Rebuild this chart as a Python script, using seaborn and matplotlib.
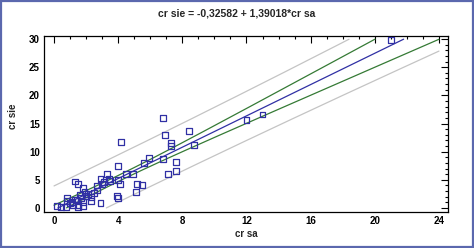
import numpy as np
import pandas as pd
import matplotlib
matplotlib.use("Agg")
import matplotlib.pyplot as plt
import seaborn as sns
from matplotlib.ticker import MultipleLocator
from matplotlib.patches import Rectangle

# ---- data ----
cr_sa = [0.2, 0.45, 0.75, 0.8, 0.8, 1.0, 1.1, 1.2, 1.3, 1.3, 1.4, 1.5, 1.5, 1.5,
         1.6, 1.7, 1.8, 1.8, 1.8, 1.9, 2.0, 2.1, 2.3, 2.3, 2.5, 2.7, 2.7, 2.9,
         2.9, 3.0, 3.1, 3.3, 3.45, 3.5, 3.9, 4.0, 4.0, 4.0, 4.1, 4.2, 4.5, 4.9,
         5.1, 5.2, 5.5, 5.6, 5.9, 6.8, 6.9, 6.8, 7.1, 7.3, 7.3, 7.6, 7.6, 8.4,
         8.7, 12.0, 13.0, 21.0]
cr_sie = [0.3, 0.1, 0.2, 1.2, 1.7, 0.9, 1.1, 0.5, 4.7, 1.5, 1.4, 4.3, 0.1, 0.6,
          2.3, 1.7, 3.6, 1.1, 0.3, 2.8, 2.2, 2.5, 2.0, 1.3, 2.6, 3.1, 4.0, 5.2,
          0.9, 4.3, 4.6, 6.0, 5.1, 4.8, 2.2, 1.8, 7.4, 4.9, 4.3, 11.7, 6.1, 6.1,
          2.8, 4.3, 4.1, 8.0, 8.9, 16.0, 13.0, 8.7, 6.1, 11.6, 11.0, 8.2, 6.6, 13.7,
          11.2, 15.6, 16.6, 29.8]
INTERCEPT = -0.32582
SLOPE = 1.39018
title_text = "cr sie = -0,32582 + 1,39018*cr sa"
x_ticks = [0, 4, 8, 12, 16, 20, 24]
y_ticks = [0, 5, 10, 15, 20, 25, 30]

# ---- regression bands computed from the data ----
x = np.asarray(cr_sa)
y = np.asarray(cr_sie)
n = len(x)
resid = y - (INTERCEPT + SLOPE * x)
s = np.sqrt(np.sum(resid ** 2) / (n - 2))
xbar = x.mean()
sxx = np.sum((x - xbar) ** 2)
t = 2.0
grid = np.linspace(0, 24, 1200)
fit = INTERCEPT + SLOPE * grid
ci = t * s * np.sqrt(1.0 / n + (grid - xbar) ** 2 / sxx)
pi = t * s * np.sqrt(1 + 1.0 / n + (grid - xbar) ** 2 / sxx)

def clip(v):
    return np.where((v >= 0) & (v <= 30), v, np.nan)

bands = pd.DataFrame({"x": grid, "fit": clip(fit), "cl": clip(fit - ci), "cu": clip(fit + ci),
                      "pl": clip(fit - pi), "pu": clip(fit + pi)})
pts = pd.DataFrame({"cr sa": cr_sa, "cr sie": cr_sie})

sns.set_style("white")
plt.rcParams["font.family"] = ["Liberation Sans", "DejaVu Sans"]
plt.rcParams["font.weight"] = "bold"

fig = plt.figure(figsize=(4.74, 2.48), dpi=100)
fig.patches.append(Rectangle((0.003, 0.004), 0.994, 0.992, transform=fig.transFigure,
                             fill=False, edgecolor="#5b68ae", linewidth=1.6))
ax = fig.add_axes([0.093, 0.145, 0.852, 0.71])

gray = "#c4c4c4"
green = "#357a35"
blue = "#3030a4"
sns.lineplot(data=bands, x="x", y="pu", ax=ax, color=gray, lw=0.9, estimator=None)
sns.lineplot(data=bands, x="x", y="pl", ax=ax, color=gray, lw=0.9, estimator=None)
sns.lineplot(data=bands, x="x", y="cu", ax=ax, color=green, lw=0.9, estimator=None)
sns.lineplot(data=bands, x="x", y="cl", ax=ax, color=green, lw=0.9, estimator=None)
sns.lineplot(data=bands, x="x", y="fit", ax=ax, color=blue, lw=0.9, estimator=None)
sns.scatterplot(data=pts, x="cr sa", y="cr sie", ax=ax, marker="s", s=18,
                facecolor="none", edgecolor=blue, linewidth=0.9, zorder=5)

ax.set_xlim(-0.62, 24.56)
ax.set_ylim(-0.72, 30.55)
ax.set_xticks(x_ticks)
ax.set_yticks(y_ticks)
ax.xaxis.set_minor_locator(MultipleLocator(1))
ax.yaxis.set_minor_locator(MultipleLocator(1))
ax.tick_params(which="both", direction="in", top=True, right=True, colors="black",
               labelsize=7, width=0.8)
ax.tick_params(which="major", length=5, pad=3)
ax.tick_params(which="minor", length=2.5)
for lab in ax.get_xticklabels() + ax.get_yticklabels():
    lab.set_fontweight("bold")
for sp in ax.spines.values():
    sp.set_color("black")
    sp.set_linewidth(0.9)

ax.set_xlabel("cr sa", fontsize=7, fontweight="bold", labelpad=2)
ax.set_ylabel("")
fig.text(0.027, 0.532, "cr sie", rotation=90, ha="center", va="center",
         fontsize=7, fontweight="bold")
fig.text(0.5, 0.945, title_text, ha="center", va="center", fontsize=7.5, fontweight="bold")

fig.savefig("out.png", dpi=100)
